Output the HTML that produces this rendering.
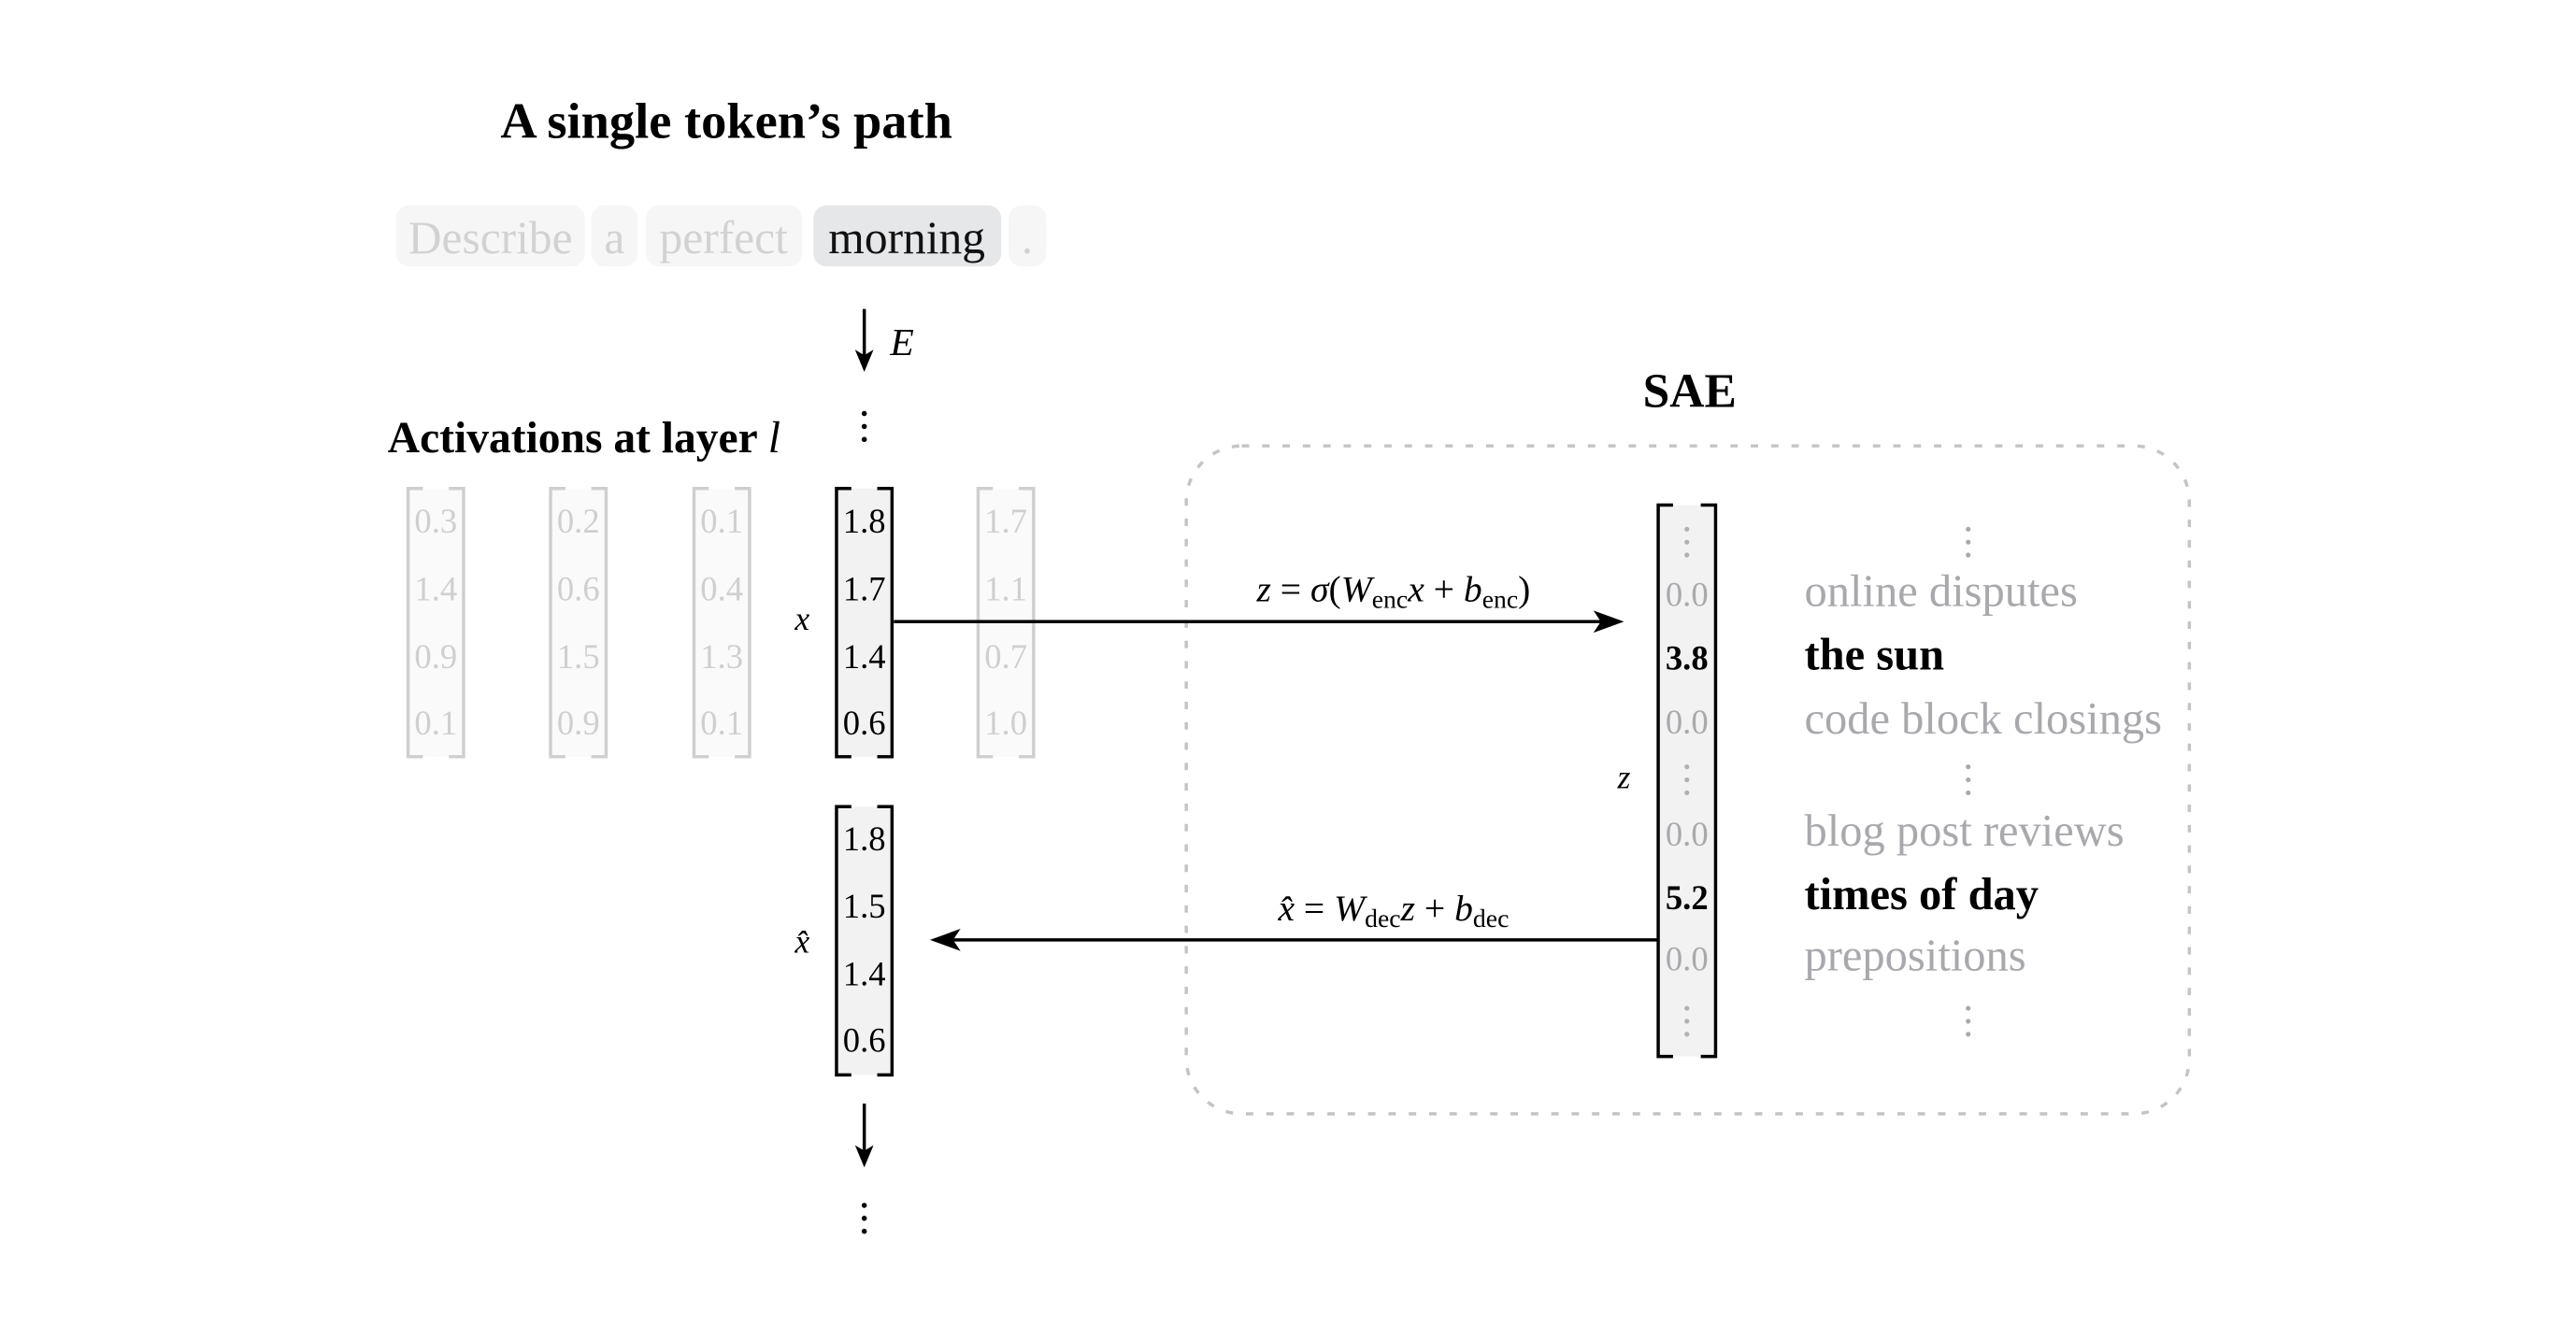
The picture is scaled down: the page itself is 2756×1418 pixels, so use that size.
<!DOCTYPE html>
<html><head><meta charset="utf-8"><style>
html,body{margin:0;padding:0;background:#fff;}
svg{display:block;}
text{font-family:"Liberation Serif",serif;}
</style></head><body>
<svg width="2756" height="1418" viewBox="0 0 2756 1418" xmlns="http://www.w3.org/2000/svg">
<g transform="scale(0.99)">
<!-- Title -->
<text x="785" y="149" font-size="55" font-weight="bold" text-anchor="middle">A single token’s path</text>

<!-- tokens -->
<rect x="428" y="222" width="204" height="66" rx="14" fill="#f6f6f6"/>
<rect x="639" y="222" width="50" height="66" rx="14" fill="#f6f6f6"/>
<rect x="698" y="222" width="169" height="66" rx="14" fill="#f6f6f6"/>
<rect x="879" y="222" width="203" height="66" rx="14" fill="#e6e7e9"/>
<rect x="1090" y="222" width="41" height="66" rx="14" fill="#f6f6f6"/>
<g font-size="50" text-anchor="middle">
<text x="530" y="274" fill="#d2d2d2">Describe</text>
<text x="664" y="274" fill="#d2d2d2">a</text>
<text x="782" y="274" fill="#d2d2d2">perfect</text>
<text x="980" y="274" fill="#111">morning</text>
<text x="1110" y="274" fill="#d2d2d2">.</text>
</g>

<!-- E arrow -->
<line x1="934" y1="334" x2="934" y2="388" stroke="#000" stroke-width="3.5"/>
<polygon points="924,378 934,402 944,378 934,384" fill="#000"/>
<text x="962" y="384" font-size="42" font-style="italic">E</text>
<g fill="#000"><circle cx="934" cy="447" r="2.8"/><circle cx="934" cy="461" r="2.8"/><circle cx="934" cy="475" r="2.8"/></g>

<text x="419" y="489" font-size="48" font-weight="bold">Activations at layer <tspan font-style="italic" font-weight="normal">l</tspan></text>

<!-- faded matrices -->
<g stroke="#cfcfcf" stroke-width="3.5" fill="none">
<rect x="441" y="528" width="60" height="290" fill="#fafafa" stroke="none"/>
<path d="M457,528 H441 V818 H457 M485,528 H501 V818 H485"/>
<rect x="595" y="528" width="60" height="290" fill="#fafafa" stroke="none"/>
<path d="M611,528 H595 V818 H611 M639,528 H655 V818 H639"/>
<rect x="750" y="528" width="60" height="290" fill="#fafafa" stroke="none"/>
<path d="M766,528 H750 V818 H766 M794,528 H810 V818 H794"/>
<rect x="1057" y="528" width="60" height="290" fill="#fafafa" stroke="none"/>
<path d="M1073,528 H1057 V818 H1073 M1101,528 H1117 V818 H1101"/>
</g>
<g font-size="37" text-anchor="middle" fill="#cfcfcf">
<text x="471" y="576">0.3</text><text x="471" y="649">1.4</text><text x="471" y="722">0.9</text><text x="471" y="794">0.1</text>
<text x="625" y="576">0.2</text><text x="625" y="649">0.6</text><text x="625" y="722">1.5</text><text x="625" y="794">0.9</text>
<text x="780" y="576">0.1</text><text x="780" y="649">0.4</text><text x="780" y="722">1.3</text><text x="780" y="794">0.1</text>
<text x="1087" y="576">1.7</text><text x="1087" y="649">1.1</text><text x="1087" y="722">0.7</text><text x="1087" y="794">1.0</text>
</g>

<!-- x matrix -->
<rect x="904" y="528" width="60" height="290" fill="#f2f2f2"/>
<path d="M920,528 H904 V818 H920 M948,528 H964 V818 H948" stroke="#000" stroke-width="3.5" fill="none"/>
<g font-size="37" text-anchor="middle" fill="#000">
<text x="934" y="576">1.8</text><text x="934" y="649">1.7</text><text x="934" y="722">1.4</text><text x="934" y="794">0.6</text>
</g>
<text x="867" y="681" font-size="36" font-style="italic" text-anchor="middle">x</text>

<!-- SAE box -->
<text x="1826" y="440" font-size="52" font-weight="bold" text-anchor="middle">SAE</text>
<rect x="1282" y="482" width="1084" height="722" rx="60" fill="none" stroke="#c4c4c4" stroke-width="3.5" stroke-dasharray="8,14"/>

<!-- encoder arrow -->
<line x1="966" y1="672" x2="1735" y2="672" stroke="#000" stroke-width="3.5"/>
<polygon points="1755,672 1722,660 1730,672 1722,684" fill="#000"/>
<text x="1506" y="650" font-size="40" text-anchor="middle"><tspan font-style="italic">z</tspan> = <tspan font-style="italic">σ</tspan>(<tspan font-style="italic">W</tspan><tspan font-size="28" dy="7">enc</tspan><tspan dy="-7" font-style="italic">x</tspan> + <tspan font-style="italic">b</tspan><tspan font-size="28" dy="7">enc</tspan><tspan dy="-7">)</tspan></text>

<!-- z matrix -->
<rect x="1792" y="546" width="62" height="596" fill="#f2f2f2"/>
<path d="M1808,546 H1792 V1142 H1808 M1838,546 H1854 V1142 H1838" stroke="#000" stroke-width="3.5" fill="none"/>
<g fill="#b0b0b4">
<circle cx="1823" cy="572" r="2.6"/><circle cx="1823" cy="586" r="2.6"/><circle cx="1823" cy="600" r="2.6"/>
<circle cx="1823" cy="829" r="2.6"/><circle cx="1823" cy="843" r="2.6"/><circle cx="1823" cy="857" r="2.6"/>
<circle cx="1823" cy="1090" r="2.6"/><circle cx="1823" cy="1104" r="2.6"/><circle cx="1823" cy="1118" r="2.6"/>
</g>
<g font-size="37" text-anchor="middle">
<text x="1823" y="655" fill="#a9a9ad">0.0</text>
<text x="1823" y="724" fill="#000" font-weight="bold">3.8</text>
<text x="1823" y="793" fill="#a9a9ad">0.0</text>
<text x="1823" y="914" fill="#a9a9ad">0.0</text>
<text x="1823" y="983" fill="#000" font-weight="bold">5.2</text>
<text x="1823" y="1049" fill="#a9a9ad">0.0</text>
</g>
<text x="1755" y="852" font-size="36" font-style="italic" text-anchor="middle">z</text>

<!-- feature labels -->
<g fill="#a9a9ad">
<circle cx="2127" cy="572" r="2.6"/><circle cx="2127" cy="586" r="2.6"/><circle cx="2127" cy="600" r="2.6"/>
<circle cx="2127" cy="829" r="2.6"/><circle cx="2127" cy="843" r="2.6"/><circle cx="2127" cy="857" r="2.6"/>
<circle cx="2127" cy="1090" r="2.6"/><circle cx="2127" cy="1104" r="2.6"/><circle cx="2127" cy="1118" r="2.6"/>
</g>
<g font-size="49">
<text x="1950" y="655" fill="#a9a9ad">online disputes</text>
<text x="1950" y="724" fill="#000" font-weight="bold">the sun</text>
<text x="1950" y="793" fill="#a9a9ad">code block closings</text>
<text x="1950" y="914" fill="#a9a9ad">blog post reviews</text>
<text x="1950" y="983" fill="#000" font-weight="bold">times of day</text>
<text x="1950" y="1049" fill="#a9a9ad">prepositions</text>
</g>

<!-- decoder arrow -->
<line x1="1792" y1="1016" x2="1025" y2="1016" stroke="#000" stroke-width="3.5"/>
<polygon points="1005,1016 1038,1004 1030,1016 1038,1028" fill="#000"/>
<text x="1506" y="995" font-size="40" text-anchor="middle"><tspan font-style="italic">x̂</tspan> = <tspan font-style="italic">W</tspan><tspan font-size="28" dy="7">dec</tspan><tspan dy="-7" font-style="italic">z</tspan> + <tspan font-style="italic">b</tspan><tspan font-size="28" dy="7">dec</tspan></text>

<!-- x-hat matrix -->
<rect x="904" y="872" width="60" height="290" fill="#f2f2f2"/>
<path d="M920,872 H904 V1162 H920 M948,872 H964 V1162 H948" stroke="#000" stroke-width="3.5" fill="none"/>
<g font-size="37" text-anchor="middle" fill="#000">
<text x="934" y="919">1.8</text><text x="934" y="992">1.5</text><text x="934" y="1065">1.4</text><text x="934" y="1137">0.6</text>
</g>
<text x="867" y="1030" font-size="36" font-style="italic" text-anchor="middle">x̂</text>

<!-- bottom arrow -->
<line x1="934" y1="1193" x2="934" y2="1248" stroke="#000" stroke-width="3.5"/>
<polygon points="924,1238 934,1262 944,1238 934,1244" fill="#000"/>
<g fill="#000"><circle cx="934" cy="1303" r="2.8"/><circle cx="934" cy="1317" r="2.8"/><circle cx="934" cy="1331" r="2.8"/></g>
</g>
</svg>
</body></html>
